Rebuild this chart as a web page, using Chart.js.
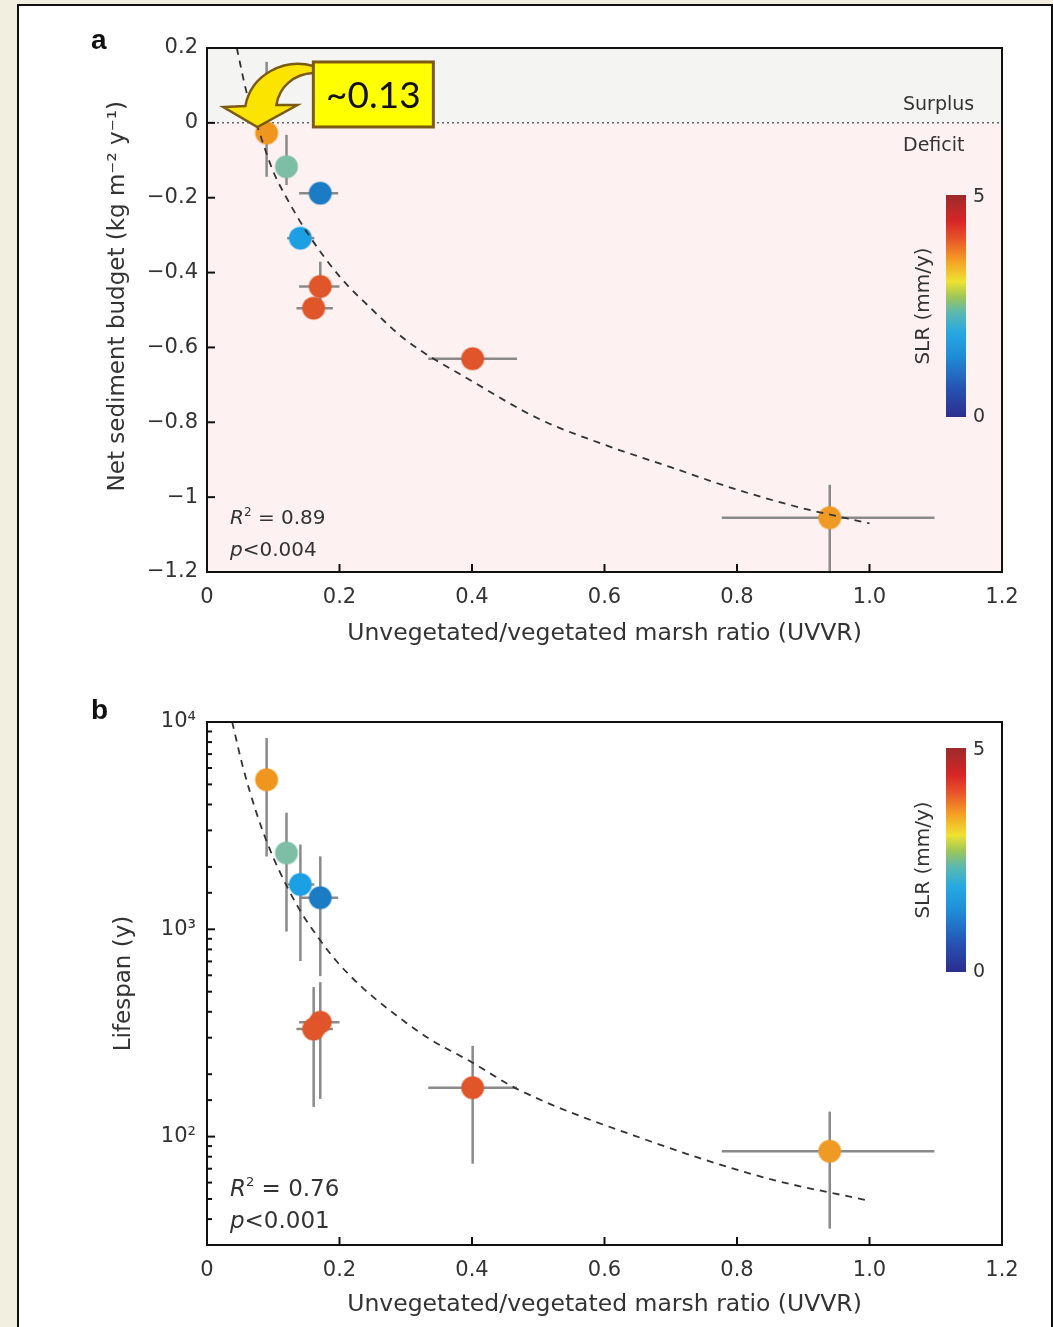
<!DOCTYPE html>
<html>
<head>
<meta charset="utf-8">
<script src="https://cdn.jsdelivr.net/npm/chart.js@4.4.1/dist/chart.umd.min.js"></script>
<style>
  html, body { margin: 0; padding: 0; }
  body { width: 1053px; height: 1327px; background: #f2eee0; position: relative; overflow: hidden; }
  #frame { position: absolute; left: 17px; top: 4px; width: 1032px; height: 1400px; background: #fff; border: 2px solid #111; }
  .wrap { position: absolute; left: 0; width: 1053px; }
  #wrapA { top: 0; height: 665px; }
  #wrapB { top: 665px; height: 662px; }
  .panel { position: absolute; left: 91px; font: bold 28px "Liberation Sans", Arial, sans-serif; color: #111; }
</style>
</head>
<body>
<div id="frame"></div>
<div class="wrap" id="wrapA"><canvas id="chartA" width="1053" height="665"></canvas></div>
<div class="wrap" id="wrapB"><canvas id="chartB" width="1053" height="662"></canvas></div>
<div class="panel" style="top:24px">a</div>
<div class="panel" style="top:694px">b</div>
<script>
// sites (same order in both panels)
const uvvr       = [0.090, 0.120, 0.171, 0.141, 0.171, 0.161, 0.401, 0.940];
const uvvrLo     = [null, null, 0.139, 0.121, 0.139, 0.135, 0.334, 0.777];
const uvvrHi     = [null, null, 0.198, 0.162, 0.200, 0.190, 0.468, 1.098];
const budget     = [-0.027, -0.117, -0.188, -0.308, -0.437, -0.495, -0.630, -1.055];
const budgetLo   = [-0.144, -0.166, null, null, -0.500, null, null, -1.200];
const budgetHi   = [0.163, -0.032, null, null, -0.371, null, null, -0.967];
const lifespan   = [5260, 2335, 1420, 1645, 356, 330, 172, 85];
const lifeLo     = [2245, 975, 594, 703, 152, 139, 74, 36];
const lifeHi     = [8380, 3650, 2250, 2565, 556, 526, 274, 132];
const siteColors = ['#f0961e', '#7dbfa6', '#1b7cc4', '#1ca0e3', '#e0552a', '#e0552a', '#e0552a', '#ef9a25'];

// fitted curves
const fitAx = [0.045, 0.06, 0.08, 0.10, 0.12, 0.15, 0.20, 0.25, 0.30, 0.40, 0.50, 0.60, 0.70, 0.80, 0.90, 1.00];
const fitAy = [0.20, 0.08, -0.03, -0.13, -0.20, -0.29, -0.41, -0.50, -0.58, -0.69, -0.79, -0.86, -0.92, -0.98, -1.03, -1.07];
const fitBx = [0.038, 0.054, 0.074, 0.092, 0.109, 0.139, 0.165, 0.195, 0.235, 0.286, 0.336, 0.396, 0.471, 0.669, 0.845, 1.00];
const fitBy = [10000, 6100, 3700, 2560, 1920, 1255, 940, 705, 522, 384, 296, 232, 168, 95, 63, 49];

// ticks
const xTicks = [0, 0.2, 0.4, 0.6, 0.8, 1.0, 1.2];
const xTickLabels = ['0', '0.2', '0.4', '0.6', '0.8', '1.0', '1.2'];
const budgetTicks = [-1.2, -1.0, -0.8, -0.6, -0.4, -0.2, 0, 0.2];
const budgetTickLabels = ['\u22121.2', '\u22121', '\u22120.8', '\u22120.6', '\u22120.4', '\u22120.2', '0', '0.2'];
const lifeMajor = [100, 1000, 10000];
const lifeMajorLabels = ['10\u00b2', '10\u00b3', '10\u2074'];
const slrLabels = ['0', '5'];

const FONT = '"DejaVu Sans", Verdana, sans-serif';
const INK = '#333';

function line(ctx, x1, y1, x2, y2) {
    ctx.beginPath(); ctx.moveTo(x1, y1); ctx.lineTo(x2, y2); ctx.stroke();
}

function drawErrorBars(chart, ys, yLo, yHi) {
    const { ctx, chartArea: a, scales: { x, y } } = chart;
    ctx.save();
    ctx.beginPath(); ctx.rect(a.left, a.top, a.width, a.height); ctx.clip();
    ctx.strokeStyle = '#8a8a8a';
    ctx.lineWidth = 2.5;
    uvvr.forEach((xv, i) => {
        const px = x.getPixelForValue(xv), py = y.getPixelForValue(ys[i]);
        if (uvvrLo[i] != null) line(ctx, x.getPixelForValue(uvvrLo[i]), py, x.getPixelForValue(uvvrHi[i]), py);
        if (yLo[i] != null) line(ctx, px, y.getPixelForValue(yLo[i]), px, y.getPixelForValue(yHi[i]));
    });
    ctx.restore();
}

function drawFrame(chart, isMajor) {
    const { ctx, chartArea: a, scales: { x, y } } = chart;
    ctx.save();
    ctx.strokeStyle = '#111';
    ctx.lineWidth = 2;
    x.ticks.forEach(t => {
        const px = x.getPixelForValue(t.value);
        line(ctx, px, a.bottom, px, a.bottom - 8);
    });
    y.ticks.forEach(t => {
        const py = y.getPixelForValue(t.value);
        line(ctx, a.left, py, a.left + (isMajor(t.value) ? 8 : 5), py);
    });
    ctx.strokeRect(a.left, a.top, a.width, a.height);
    ctx.restore();
}

function drawColorbar(chart, top, height) {
    const { ctx, chartArea: a } = chart;
    const left = a.right - 56, w = 20;
    const g = ctx.createLinearGradient(0, top + height, 0, top);
    [[0, '#2b2e8e'], [0.12, '#2650b0'], [0.28, '#1f8fd8'], [0.38, '#27a8e2'], [0.47, '#5cb8b0'],
     [0.54, '#9cc65a'], [0.61, '#efe231'], [0.7, '#f4a324'], [0.8, '#e9542a'], [0.88, '#d82626'], [1, '#9c2a2a']]
        .forEach(s => g.addColorStop(s[0], s[1]));
    ctx.save();
    ctx.fillStyle = g;
    ctx.fillRect(left, top, w, height);
    ctx.fillStyle = INK;
    ctx.font = '19px ' + FONT;
    ctx.textBaseline = 'middle';
    ctx.textAlign = 'left';
    ctx.fillText(slrLabels[1], left + 27, top + 2);
    ctx.fillText(slrLabels[0], left + 27, top + height);
    ctx.translate(left - 22, top + height / 2);
    ctx.rotate(-Math.PI / 2);
    ctx.textAlign = 'center';
    ctx.font = '20px ' + FONT;
    ctx.fillText('SLR (mm/y)', 0, 0);
    ctx.restore();
}

function drawStats(chart, r2, p, size, dyR, dyP) {
    const { ctx, chartArea: a } = chart;
    const x0 = a.left + 23;
    ctx.save();
    ctx.fillStyle = INK;
    ctx.textBaseline = 'alphabetic';
    ctx.textAlign = 'left';
    let x = x0, yb = a.bottom - dyR;
    ctx.font = 'italic ' + size + 'px ' + FONT;
    ctx.fillText('R', x, yb); x += ctx.measureText('R').width;
    ctx.font = Math.round(size * 0.58) + 'px ' + FONT;
    ctx.fillText('2', x, yb - size * 0.42); x += ctx.measureText('2').width;
    ctx.font = size + 'px ' + FONT;
    ctx.fillText(' = ' + r2, x, yb);
    yb = a.bottom - dyP; x = x0;
    ctx.font = 'italic ' + size + 'px ' + FONT;
    ctx.fillText('p', x, yb); x += ctx.measureText('p').width;
    ctx.font = size + 'px ' + FONT;
    ctx.fillText('<' + p, x, yb);
    ctx.restore();
}

function drawCallout(chart) {
    const { ctx, scales: { x, y } } = chart;
    const tx = x.getPixelForValue(0.076), ty = y.getPixelForValue(-0.011);
    ctx.save();
    ctx.translate(tx, ty);
    // curved arrow
    ctx.beginPath();
    ctx.moveTo(56, -61);
    ctx.bezierCurveTo(27, -69, -6, -53, -12, -21);
    ctx.lineTo(-34, -20);
    ctx.lineTo(0, 0);
    ctx.lineTo(40, -22);
    ctx.lineTo(19, -22);
    ctx.bezierCurveTo(22, -40, 36, -53, 56, -54);
    ctx.closePath();
    ctx.fillStyle = '#fbe400';
    ctx.fill();
    ctx.strokeStyle = '#7b5a14';
    ctx.lineWidth = 2.5;
    ctx.stroke();
    // label box
    ctx.fillStyle = '#ffff00';
    ctx.fillRect(56, -65, 120, 65);
    ctx.lineWidth = 3;
    ctx.strokeRect(56, -65, 120, 65);
    ctx.fillStyle = '#111';
    ctx.font = '37px Lato, "Noto Sans", sans-serif';
    ctx.textAlign = 'center';
    ctx.textBaseline = 'middle';
    ctx.fillText('~0.13', 116, -31);
    ctx.restore();
}

const panelA = {
    id: 'panelA',
    beforeDraw(chart) {
        const { ctx, chartArea: a, scales: { y } } = chart;
        const y0 = y.getPixelForValue(0);
        ctx.save();
        ctx.fillStyle = '#f4f4f3';
        ctx.fillRect(a.left, a.top, a.width, y0 - a.top);
        ctx.fillStyle = '#fdf1f1';
        ctx.fillRect(a.left, y0, a.width, a.bottom - y0);
        ctx.restore();
    },
    beforeDatasetsDraw(chart) {
        const { ctx, chartArea: a, scales: { y } } = chart;
        const y0 = y.getPixelForValue(0);
        ctx.save();
        ctx.strokeStyle = '#666';
        ctx.lineWidth = 1.5;
        ctx.setLineDash([2, 3]);
        line(ctx, a.left, y0, a.right, y0);
        ctx.restore();
        drawErrorBars(chart, budget, budgetLo, budgetHi);
    },
    afterDraw(chart) {
        const { ctx, chartArea: a, scales: { y } } = chart;
        drawFrame(chart, () => true);
        const y0 = y.getPixelForValue(0);
        ctx.save();
        ctx.fillStyle = INK;
        ctx.font = '19px ' + FONT;
        ctx.textBaseline = 'middle';
        ctx.fillText('Surplus', a.right - 99, y0 - 18);
        ctx.fillText('Deficit', a.right - 99, y0 + 23);
        ctx.restore();
        drawColorbar(chart, a.top + 147, 222);
        drawStats(chart, '0.89', '0.004', 20, 48, 16);
        drawCallout(chart);
    }
};

const panelB = {
    id: 'panelB',
    beforeDatasetsDraw(chart) {
        drawErrorBars(chart, lifespan, lifeLo, lifeHi);
    },
    afterDraw(chart) {
        const { chartArea: a } = chart;
        drawFrame(chart, v => lifeMajor.some(m => Math.abs(m - v) < 1e-6));
        drawColorbar(chart, a.top + 26, 224);
        drawStats(chart, '0.76', '0.001', 23, 49, 17);
    }
};

function xScale(titlePad, height) {
    return {
        type: 'linear', min: 0, max: 1.2,
        grid: { display: false, drawTicks: false },
        border: { display: false },
        afterBuildTicks: s => { s.ticks = xTicks.map(v => ({ value: v })); },
        afterFit: s => { s.height = height; },
        ticks: { callback: (v, i) => xTickLabels[i], color: INK, font: { size: 21, family: FONT }, padding: 13, maxRotation: 0 },
        title: { display: true, text: 'Unvegetated/vegetated marsh ratio (UVVR)', color: INK,
                 font: { size: 23.5, family: FONT }, padding: { top: 0, bottom: titlePad } }
    };
}

function points(ys) {
    return {
        data: uvvr.map((x, i) => ({ x, y: ys[i] })),
        backgroundColor: siteColors,
        borderColor: siteColors.map(c => c + '70'),
        borderWidth: 2,
        pointRadius: 11,
        order: 1
    };
}

function fit(xs, ys) {
    return {
        data: xs.map((x, i) => ({ x, y: ys[i] })),
        showLine: true,
        borderColor: '#333',
        borderWidth: 1.8,
        borderDash: [7, 6],
        pointRadius: 0,
        cubicInterpolationMode: 'monotone',
        order: 0
    };
}

const common = {
    responsive: false,
    animation: false,
    events: [],
    plugins: { legend: { display: false }, tooltip: { enabled: false } }
};

new Chart(document.getElementById('chartA'), {
    type: 'scatter',
    data: { datasets: [fit(fitAx, fitAy), points(budget)] },
    options: {
        ...common,
        layout: { padding: { top: 48, right: 51, left: 0, bottom: 0 } },
        scales: {
            x: xScale(17, 93),
            y: {
                type: 'linear', min: -1.2, max: 0.2,
                grid: { display: false, drawTicks: false },
                border: { display: false },
                afterBuildTicks: s => { s.ticks = budgetTicks.map(v => ({ value: v })); },
                afterFit: s => { s.width = 207; },
                ticks: { callback: (v, i) => budgetTickLabels[i], color: INK, font: { size: 21, family: FONT }, padding: 9 },
                // leading em space lifts the centred title a little, as in the original
                title: { display: true, text: '\u2003\u2009Net sediment budget (kg m\u207b\u00b2 y\u207b\u00b9)', color: INK,
                         font: { size: 23, family: FONT }, padding: { top: 104, bottom: 0 } }
            }
        }
    },
    plugins: [panelA]
});

new Chart(document.getElementById('chartB'), {
    type: 'scatter',
    data: { datasets: [fit(fitBx, fitBy), points(lifespan)] },
    options: {
        ...common,
        layout: { padding: { top: 57, right: 51, left: 0, bottom: 0 } },
        scales: {
            x: xScale(8, 82),
            y: {
                type: 'logarithmic', min: 30, max: 10000,
                grid: { display: false, drawTicks: false },
                border: { display: false },
                afterFit: s => { s.width = 207; },
                ticks: {
                    autoSkip: false,
                    callback: v => {
                        const i = lifeMajor.findIndex(m => Math.abs(m - v) < 1e-6);
                        return i >= 0 ? lifeMajorLabels[i] : '';
                    },
                    color: INK, font: { size: 21, family: FONT }, padding: 11
                },
                title: { display: true, text: 'Lifespan (y)', color: INK,
                         font: { size: 23, family: FONT }, padding: { top: 110, bottom: 0 } }
            }
        }
    },
    plugins: [panelB]
});
</script>
</body>
</html>
